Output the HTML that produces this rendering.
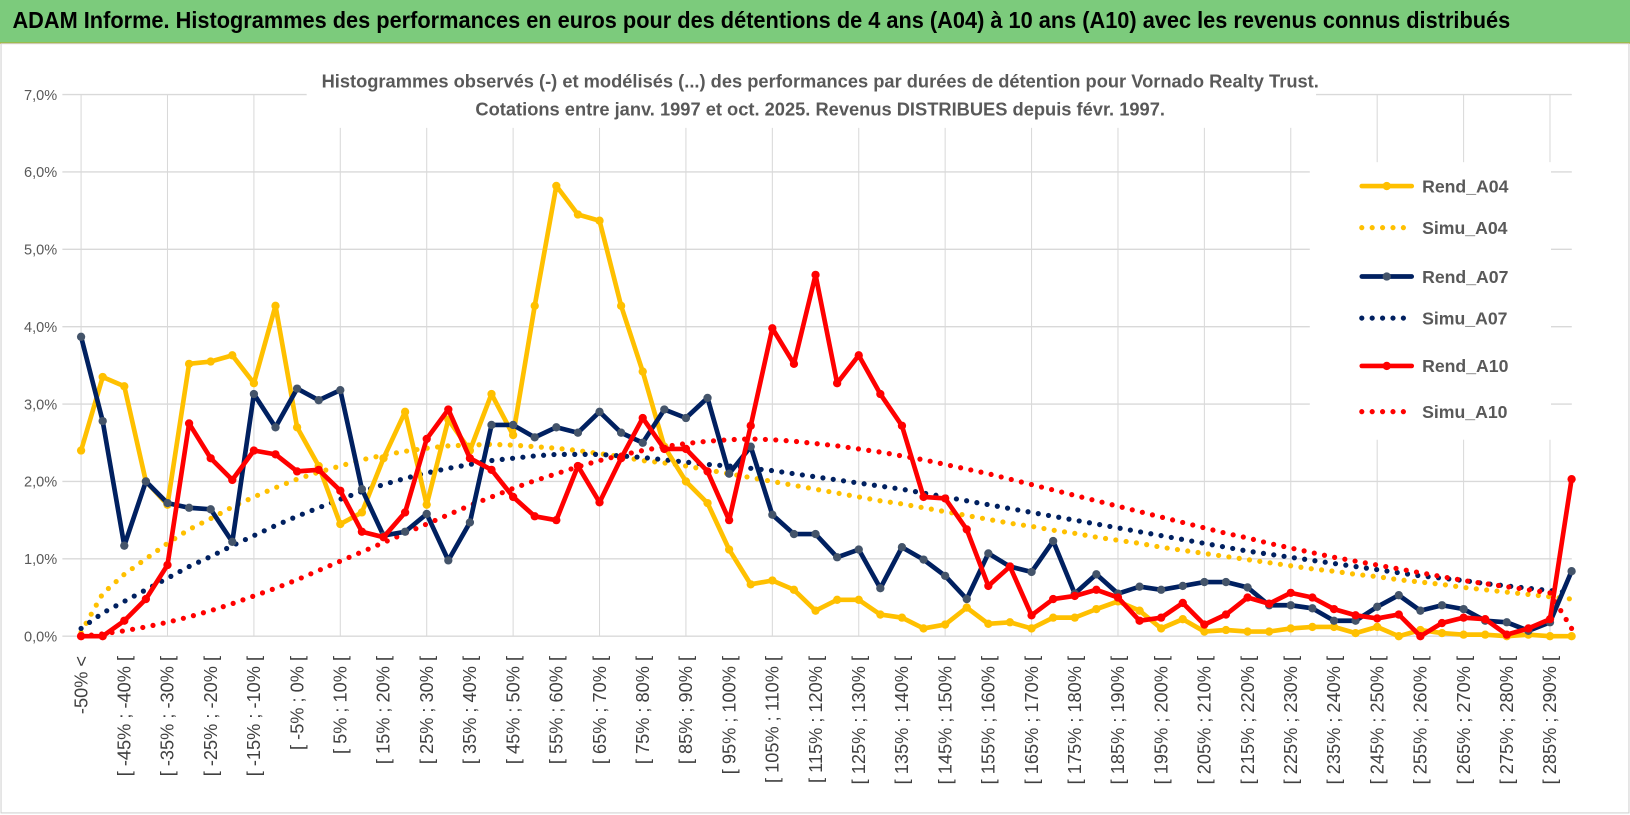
<!DOCTYPE html>
<html><head><meta charset="utf-8"><style>
html,body{margin:0;padding:0;background:#fff;}
body{width:1630px;height:815px;overflow:hidden;font-family:"Liberation Sans",sans-serif;position:relative;}
#wrap{position:absolute;left:0;top:0;width:1568px;height:784px;transform:scale(1.03954);transform-origin:0 0;}
#banner{position:absolute;left:0;top:0;width:1568px;height:41px;background:#7ccb7c;border-bottom:1px solid #c9a400;}
#banner span{position:absolute;left:12px;top:7px;font-size:22.5px;font-weight:bold;color:#000;white-space:nowrap;transform:scaleX(0.93);transform-origin:left;}
svg{position:absolute;left:0;top:0;}
</style></head><body>
<div id="wrap">
<div id="banner"><span>ADAM Informe. Histogrammes des performances en euros pour des détentions de 4 ans (A04) à 10 ans (A10) avec les revenus connus distribués</span></div>
<svg id="chart" width="1568" height="784"></svg>
</div>
<script>
const ticksY=[0,1,2,3,4,5,6,7];
const rendA04=[2.4,3.35,3.23,2.0,1.7,3.52,3.55,3.63,3.27,4.27,2.7,2.2,1.45,1.6,2.3,2.9,1.7,2.8,2.4,3.13,2.6,4.27,5.82,5.45,5.37,4.27,3.42,2.45,2.0,1.72,1.12,0.67,0.72,0.6,0.33,0.47,0.47,0.28,0.24,0.1,0.15,0.37,0.16,0.18,0.1,0.24,0.24,0.35,0.45,0.33,0.1,0.22,0.06,0.08,0.06,0.06,0.1,0.12,0.12,0.04,0.12,0.0,0.08,0.04,0.02,0.02,0.0,0.02,0.0,0.0];
const simuA04=[0.05,0.55,0.8,1.0,1.2,1.38,1.52,1.67,1.8,1.92,2.03,2.12,2.2,2.28,2.34,2.39,2.43,2.46,2.47,2.48,2.47,2.45,2.43,2.4,2.36,2.32,2.27,2.24,2.2,2.15,2.1,2.05,2.0,1.95,1.9,1.85,1.8,1.75,1.71,1.66,1.61,1.56,1.51,1.46,1.42,1.37,1.33,1.28,1.24,1.2,1.15,1.11,1.07,1.03,0.99,0.95,0.91,0.87,0.84,0.8,0.77,0.73,0.7,0.67,0.63,0.6,0.57,0.54,0.51,0.48];
const rendA07=[3.87,2.78,1.17,2.0,1.72,1.66,1.64,1.22,3.13,2.7,3.2,3.05,3.18,1.9,1.3,1.35,1.58,0.98,1.47,2.73,2.73,2.57,2.7,2.63,2.9,2.63,2.5,2.93,2.82,3.08,2.1,2.45,1.57,1.32,1.32,1.02,1.12,0.62,1.15,0.99,0.78,0.48,1.07,0.9,0.83,1.23,0.55,0.8,0.55,0.64,0.6,0.65,0.7,0.7,0.63,0.4,0.4,0.36,0.2,0.2,0.38,0.53,0.33,0.4,0.35,0.2,0.18,0.07,0.18,0.84];
const simuA07=[0.1,0.3,0.45,0.6,0.75,0.9,1.03,1.17,1.3,1.43,1.55,1.66,1.77,1.87,1.96,2.04,2.11,2.17,2.22,2.27,2.3,2.33,2.35,2.35,2.35,2.33,2.31,2.28,2.25,2.22,2.2,2.17,2.14,2.1,2.06,2.02,1.98,1.94,1.9,1.85,1.8,1.75,1.7,1.65,1.6,1.55,1.5,1.45,1.4,1.35,1.3,1.25,1.2,1.15,1.1,1.06,1.02,0.98,0.94,0.9,0.86,0.82,0.78,0.75,0.72,0.68,0.65,0.62,0.59,0.56];
const rendA10=[0.0,0.0,0.2,0.48,0.92,2.75,2.3,2.02,2.4,2.35,2.13,2.15,1.88,1.35,1.28,1.6,2.55,2.93,2.3,2.15,1.8,1.55,1.5,2.2,1.73,2.3,2.82,2.42,2.42,2.13,1.5,2.72,3.98,3.52,4.67,3.27,3.63,3.13,2.72,1.8,1.78,1.38,0.65,0.9,0.27,0.48,0.52,0.6,0.5,0.2,0.24,0.43,0.15,0.28,0.5,0.42,0.56,0.5,0.35,0.27,0.23,0.28,0.0,0.17,0.24,0.22,0.02,0.1,0.22,2.03];
const simuA10=[0.0,0.03,0.07,0.12,0.18,0.25,0.33,0.42,0.52,0.62,0.73,0.85,0.97,1.09,1.21,1.33,1.45,1.57,1.69,1.8,1.91,2.01,2.1,2.19,2.27,2.34,2.4,2.45,2.49,2.52,2.54,2.55,2.54,2.52,2.49,2.46,2.42,2.38,2.33,2.28,2.22,2.16,2.1,2.03,1.96,1.89,1.82,1.75,1.68,1.61,1.54,1.47,1.4,1.33,1.27,1.2,1.14,1.08,1.02,0.97,0.92,0.87,0.82,0.77,0.72,0.68,0.64,0.6,0.56,0.1];
const categories=["-50% <"];
for(let v=-50;v<295;v+=5) categories.push("[ "+v+"% ; "+(v+5)+"% [");
const seriesNames=["Rend_A04","Simu_A04","Rend_A07","Simu_A07","Rend_A10","Simu_A10"];

const NS="http://www.w3.org/2000/svg";
const svg=document.getElementById('chart');
const X0=78,DX=20.78,Y0=612,PY=74.43,PL=60,PR=1512;
const xs=i=>X0+i*DX;
const ys=v=>Y0-v*PY;
function mk(t,a,p){const e=document.createElementNS(NS,t);for(const k in a)e.setAttribute(k,a[k]);(p||svg).appendChild(e);return e;}

const fr=mk('rect',{x:1,y:42,width:1566,height:740,fill:'none',stroke:'#d0d0d0'});



for(let i=0;i<categories.length;i+=4){
  const g=mk('line',{x1:xs(i),x2:xs(i),y1:ys(7),y2:Y0,stroke:'#d9d9d9','stroke-width':1});
  
  
}
ticksY.forEach(t=>{
  const g=mk('line',{x1:PL,x2:PR,y1:ys(t),y2:ys(t),stroke:'#d9d9d9','stroke-width':1.3});
  
  
  const l=mk('text',{x:55,y:ys(t)+5,'text-anchor':'end','font-size':'14',fill:'#595959'});
  l.textContent=t.toFixed(1).replace('.',',')+'%';
  
  
});

const tb=mk('rect',{x:295,y:60,width:971,height:63,fill:'#fff'});


const t1=mk('text',{x:789,y:84,'text-anchor':'middle','font-size':'17.6','font-weight':'bold',fill:'#595959'});
t1.textContent="Histogrammes observés (-) et modélisés (...) des performances par durées de détention pour Vornado Realty Trust.";


const t2=mk('text',{x:789,y:111,'text-anchor':'middle','font-size':'17.6','font-weight':'bold',fill:'#595959'});
t2.textContent="Cotations entre janv. 1997 et oct. 2025. Revenus DISTRIBUES depuis févr. 1997.";



categories.forEach((c,i)=>{
  if(i%2) return;
  const l=mk('text',{x:0,y:0,'text-anchor':'end','font-size':'17.5',fill:'#404040',transform:`translate(${xs(i)+6},631) rotate(-90)`});
  l.textContent=c;
  
  
});

const lg=mk('rect',{x:1260,y:156,width:232,height:267,fill:'#fff'});



const data=[rendA04,simuA04,rendA07,simuA07,rendA10,simuA10];
const colors=['#ffc000','#ffc000','#002060','#002060','#ff0000','#ff0000'];
const markerCol=['#ffc000','#ffc000','#44546a','#002060','#ff0000','#ff0000'];
const order=[1,3,5,0,2,4];
order.forEach(s=>{
  const vals=data[s];
  const pts=vals.map((v,i)=>xs(i)+','+ys(v)).join(' ');
  const dotted=s%2===1;
  const pl=mk('polyline',{points:pts,fill:'none',stroke:colors[s],'stroke-width':dotted?5:4.5,'stroke-linejoin':'round','stroke-linecap':'round','stroke-dasharray':dotted?'0 10':'none'});
  
  
  if(!dotted){
    vals.forEach((v,i)=>{
      const c=mk('circle',{cx:xs(i),cy:ys(v),r:4,fill:markerCol[s]});
      
      
    });
  }
});

const ly=[179,219,266,306,352,396];
seriesNames.forEach((n,s)=>{
  const y=ly[s];
  const dotted=s%2===1;
  const ln=mk('line',{x1:1310,x2:1358,y1:y,y2:y,stroke:colors[s],'stroke-width':dotted?5:4.5,'stroke-linecap':'round','stroke-dasharray':dotted?'0 10':'none'});
  
  
  if(!dotted){const c=mk('circle',{cx:1334,cy:y,r:4,fill:markerCol[s]});}
  const t=mk('text',{x:1368,y:y+6,'font-size':'17','font-weight':'bold',fill:'#595959'});
  t.textContent=n;
  
  
});
</script>
</body></html>
